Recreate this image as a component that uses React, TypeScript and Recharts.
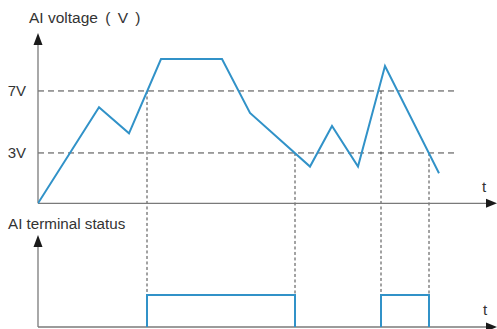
import React from "react";
import { ComposedChart, Line, XAxis, YAxis, ReferenceLine } from "recharts";

// time is in arbitrary units, voltage in V
const voltageTimes = [0, 6.1, 9.1, 12.3, 18.4, 21.2, 27.2, 29.4, 32.0, 34.7, 40.1];
const voltageValues = [-0.25, 5.95, 4.27, 9.06, 9.06, 5.58, 2.12, 4.74, 2.12, 8.61, 1.69];

const thresholds = [7, 3];
const thresholdLabels = ["7V", "3V"];

// moments where the voltage crosses a threshold and the terminal switches
const switchTimes = [10.9, 25.7, 34.3, 39.1];
const switchFrom = [7, 3, 7, 3];

const pulseStarts = [10.9, 34.3];
const pulseEnds = [25.7, 39.1];

const T_END = 45.9;
const DASH_END = 41.7;
const V_MIN = -8.23;
const V_MAX = 10.74;
const V_AXIS = -0.25;
const S_MAX = 9.19;
const S_TIP = 2.875;

const BLUE = "#3192c8";
const GREY = "#7a7a7a";
const DASH = "#444";
const FONT = "'Liberation Sans', Arial, sans-serif";

const voltageData = voltageTimes.map((t, i) => ({ t, v: voltageValues[i] }));

const pulseData = pulseStarts.map((on, i) => [
  { t: on, s: 0 },
  { t: on, s: 1 },
  { t: pulseEnds[i], s: 1 },
  { t: pulseEnds[i], s: 0 },
]);

// axis line with an arrow head at its far end
const ArrowAxis = (p: any) => {
  const { x1, y1, x2, y2 } = p;
  const horiz = Math.abs(y2 - y1) < Math.abs(x2 - x1);
  if (horiz) {
    const sx = Math.min(x1, x2);
    const tx = Math.max(x1, x2);
    return (
      <g>
        <line x1={sx} y1={y1} x2={tx - 8} y2={y1} stroke={GREY} strokeWidth={1.3} />
        <polygon points={`${tx},${y1} ${tx - 11},${y1 - 4.5} ${tx - 11},${y1 + 4.5}`} fill="#1a1a1a" />
      </g>
    );
  }
  const sy = Math.max(y1, y2);
  const ty = Math.min(y1, y2);
  return (
    <g>
      <line x1={x1} y1={sy} x2={x1} y2={ty + 8} stroke={GREY} strokeWidth={1.3} />
      <polygon points={`${x1},${ty} ${x1 - 4.5},${ty + 12} ${x1 + 4.5},${ty + 12}`} fill="#1a1a1a" />
    </g>
  );
};

const label: React.CSSProperties = {
  position: "absolute",
  fontFamily: FONT,
  fontSize: 15,
  color: "#333",
  lineHeight: "15px",
  whiteSpace: "nowrap",
};

export default function App() {
  return (
    <div style={{ position: "absolute", left: 0, top: 0, width: 497, height: 329, background: "#fff" }}>
      <ComposedChart width={497} height={329} margin={{ top: 33, right: 0, bottom: 2, left: 0 }}>
        <XAxis type="number" dataKey="t" domain={[0, T_END]} allowDataOverflow hide />
        <YAxis yAxisId="v" type="number" domain={[V_MIN, V_MAX]} allowDataOverflow width={38} tick={false} axisLine={false} tickLine={false} />
        <YAxis yAxisId="s" type="number" domain={[0, S_MAX]} allowDataOverflow hide />

        {thresholds.map((y, i) => (
          <ReferenceLine
            key={"h" + y}
            yAxisId="v"
            segment={[{ x: 0, y }, { x: DASH_END, y }]}
            stroke={DASH}
            strokeDasharray="6 4"
            ifOverflow="visible"
            label={{
              value: thresholdLabels[i],
              position: "left",
              offset: 12,
              fill: "#333",
              fontSize: 15,
              fontFamily: FONT,
            }}
          />
        ))}
        {switchTimes.map((x, i) => (
          <ReferenceLine
            key={"s" + i}
            yAxisId="v"
            segment={[{ x, y: switchFrom[i] }, { x, y: V_MIN }]}
            stroke={DASH}
            strokeDasharray="3 2.5"
            ifOverflow="visible"
          />
        ))}

        <ReferenceLine yAxisId="v" segment={[{ x: 0, y: V_AXIS }, { x: T_END, y: V_AXIS }]} shape={ArrowAxis} ifOverflow="visible" />
        <ReferenceLine yAxisId="v" segment={[{ x: 0, y: V_AXIS }, { x: 0, y: V_MAX }]} shape={ArrowAxis} ifOverflow="visible" />
        <ReferenceLine yAxisId="s" segment={[{ x: 0, y: 0 }, { x: T_END, y: 0 }]} shape={ArrowAxis} ifOverflow="visible" />
        <ReferenceLine yAxisId="s" segment={[{ x: 0, y: 0 }, { x: 0, y: S_TIP }]} shape={ArrowAxis} ifOverflow="visible" />

        <Line
          yAxisId="v"
          data={voltageData}
          dataKey="v"
          type="linear"
          stroke={BLUE}
          strokeWidth={2}
          dot={false}
          isAnimationActive={false}
        />
        {pulseData.map((d, i) => (
          <Line
            key={"p" + i}
            yAxisId="s"
            data={d}
            dataKey="s"
            type="linear"
            stroke={BLUE}
            strokeWidth={2}
            dot={false}
            isAnimationActive={false}
          />
        ))}
      </ComposedChart>

      <div style={{ ...label, left: 29, top: 10, fontSize: 15.5 }}>
        AI voltage<span style={{ wordSpacing: 3 }}> ( V )</span>
      </div>
      <div style={{ ...label, left: 8, top: 216, fontSize: 15.2 }}>AI terminal status</div>
      <div style={{ ...label, left: 482, top: 179 }}>t</div>
      <div style={{ ...label, left: 483, top: 302 }}>t</div>
    </div>
  );
}
